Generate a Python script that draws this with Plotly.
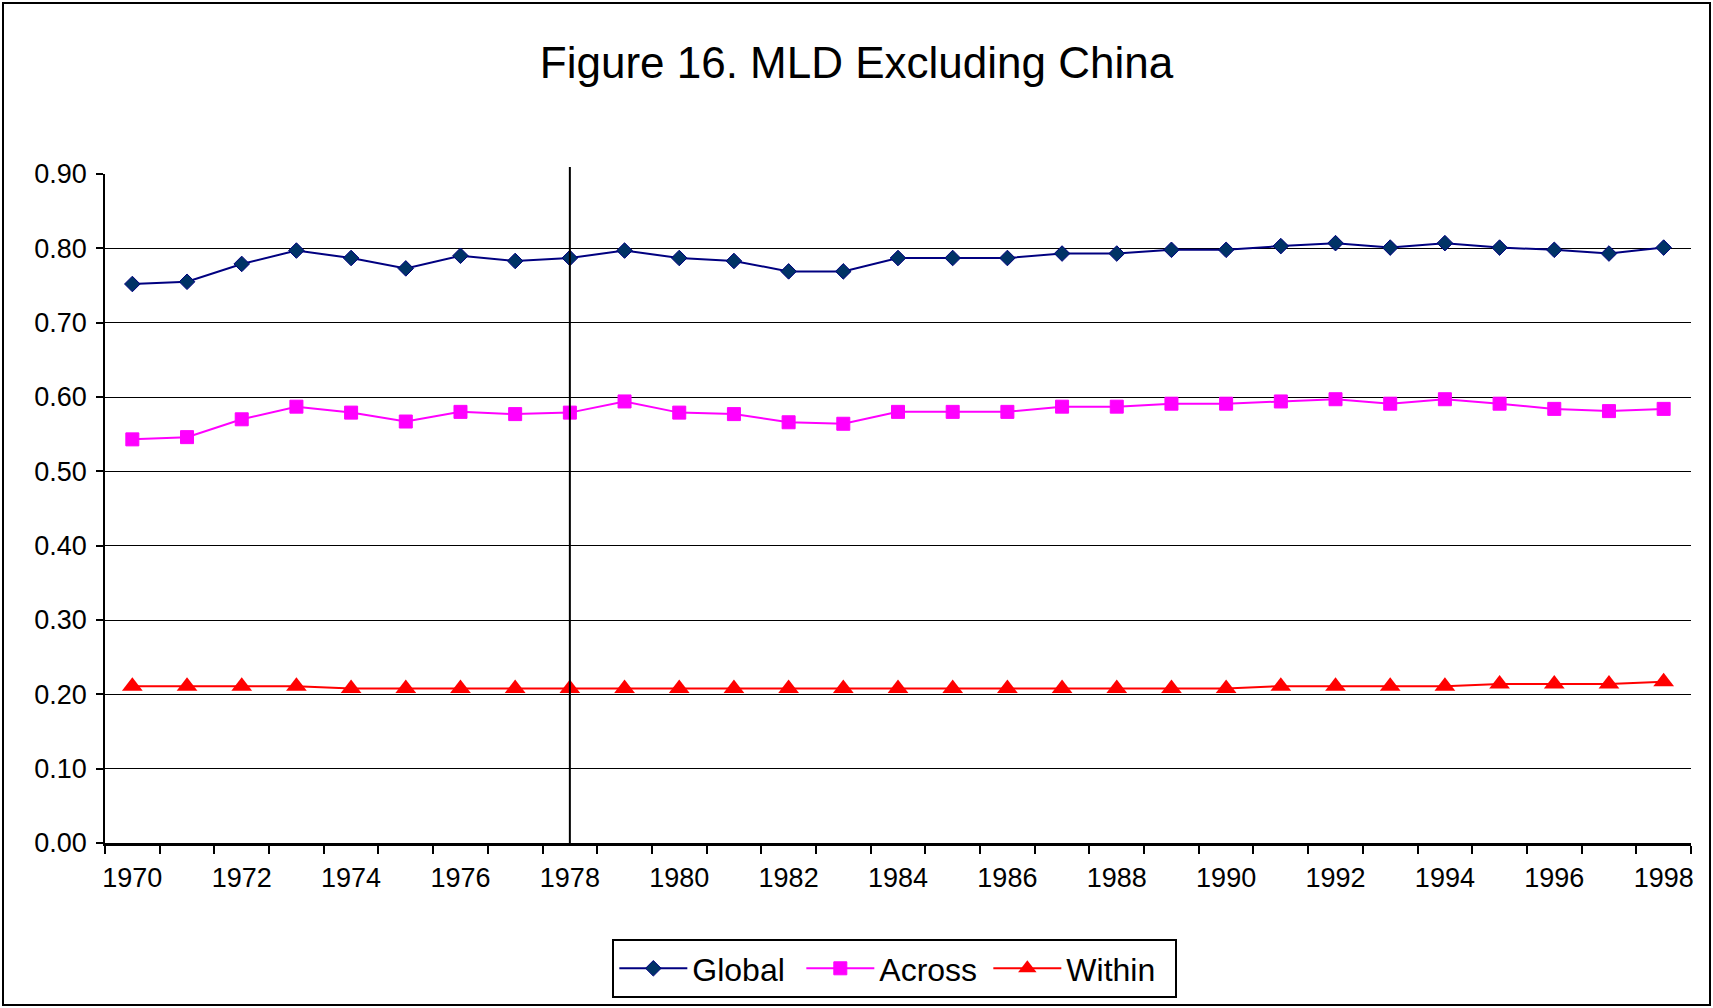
import plotly.graph_objects as go

# MLD decomposition excluding China, 1970-1998
years = [1970, 1971, 1972, 1973, 1974, 1975, 1976, 1977, 1978, 1979,
         1980, 1981, 1982, 1983, 1984, 1985, 1986, 1987, 1988, 1989,
         1990, 1991, 1992, 1993, 1994, 1995, 1996, 1997, 1998]

global_mld = [0.752, 0.755, 0.779, 0.797, 0.787, 0.773, 0.790, 0.783, 0.787, 0.797,
              0.787, 0.783, 0.769, 0.769, 0.787, 0.787, 0.787, 0.793, 0.793, 0.798,
              0.798, 0.803, 0.807, 0.801, 0.807, 0.801, 0.798, 0.793, 0.801]

across_mld = [0.543, 0.546, 0.570, 0.587, 0.579, 0.567, 0.580, 0.577, 0.579, 0.594,
              0.579, 0.577, 0.566, 0.564, 0.580, 0.580, 0.580, 0.587, 0.587, 0.591,
              0.591, 0.594, 0.597, 0.591, 0.597, 0.591, 0.584, 0.581, 0.584]

within_mld = [0.211, 0.211, 0.211, 0.211, 0.208, 0.208, 0.208, 0.208, 0.208, 0.208,
              0.208, 0.208, 0.208, 0.208, 0.208, 0.208, 0.208, 0.208, 0.208, 0.208,
              0.208, 0.211, 0.211, 0.211, 0.211, 0.214, 0.214, 0.214, 0.217]

label_years = [1970, 1972, 1974, 1976, 1978, 1980, 1982, 1984, 1986, 1988,
               1990, 1992, 1994, 1996, 1998]
label_text = [str(y) for y in label_years]

y_ticks = [0.0, 0.1, 0.2, 0.3, 0.4, 0.5, 0.6, 0.7, 0.8, 0.9]

reform_year = 1978
title_text = "Figure 16. MLD Excluding China"

FONT = "Liberation Sans, Arial, sans-serif"
W, H = 1713, 1008
M_L, M_R, M_T, M_B = 105, 22, 174, 165
PW = W - M_L - M_R
PH = H - M_T - M_B

fig = go.Figure()

fig.add_trace(go.Scatter(
    x=years, y=global_mld, name="Global", mode="lines+markers",
    line=dict(color="#000080", width=2),
    marker=dict(symbol="diamond", size=12, color="#003366",
                line=dict(color="#000080", width=1)),
))
fig.add_trace(go.Scatter(
    x=years, y=across_mld, name="Across", mode="lines+markers",
    line=dict(color="#FF00FF", width=2),
    marker=dict(symbol="square", size=13, color="#FF00FF",
                line=dict(color="#FF00FF", width=1)),
))
fig.add_trace(go.Scatter(
    x=years, y=within_mld, name="Within", mode="lines+markers",
    line=dict(color="#FF0000", width=2),
    marker=dict(symbol="triangle-up", size=18, color="#FF0000",
                line=dict(color="#FF0000", width=0)),
))

# category boundaries for the x tick marks
boundaries = [y - 0.5 for y in years] + [years[-1] + 0.5]

fig.update_xaxes(
    range=[years[0] - 0.5, years[-1] + 0.5],
    tickmode="array", tickvals=label_years, ticktext=label_text,
    ticks="", showgrid=False, zeroline=False,
    showline=True, linecolor="black", linewidth=2.5,
    tickfont=dict(family=FONT, size=27, color="black"),
    ticklabelstandoff=9,
    minor=dict(tickmode="array", tickvals=boundaries, ticks="outside",
               ticklen=8, tickwidth=1.5, tickcolor="black", showgrid=False),
)
fig.update_yaxes(
    range=[0, 0.9], tickmode="array", tickvals=y_ticks, tickformat=".2f",
    ticks="outside", ticklen=7, tickwidth=1.5, tickcolor="black",
    showgrid=True, gridcolor="black", gridwidth=1, zeroline=False,
    showline=True, linecolor="black", linewidth=1.5,
    tickfont=dict(family=FONT, size=27, color="black"),
    ticklabelstandoff=4,
)

# vertical marker at the reform year
fig.add_shape(type="line", xref="x", yref="paper",
              x0=reform_year, x1=reform_year, y0=0, y1=1 + 7 / PH,
              line=dict(color="black", width=2), layer="above")

# outer chart frame
fig.add_shape(type="rect", xref="paper", yref="paper",
              x0=(3 - M_L) / PW, x1=(W - 3 - M_L) / PW,
              y0=-(H - 3 - (M_T + PH)) / PH, y1=(M_T - 3) / PH + 1,
              line=dict(color="black", width=2), fillcolor="rgba(0,0,0,0)")

fig.update_layout(
    width=W, height=H,
    margin=dict(l=M_L, r=M_R, t=M_T, b=M_B),
    paper_bgcolor="white", plot_bgcolor="white",
    title=dict(text=title_text, x=0.5, xref="container", xanchor="center",
               y=1 - 63 / H, yref="container", yanchor="middle",
               font=dict(family=FONT, size=44, color="black")),
    legend=dict(orientation="h", x=0.498, xanchor="center", xref="paper",
                y=1 - 939 / H, yref="container", yanchor="top",
                bordercolor="black", borderwidth=2, bgcolor="white",
                font=dict(family=FONT, size=32, color="black"),
                itemwidth=68, entrywidth=104),
    showlegend=True,
)

fig.write_html("out.html")
